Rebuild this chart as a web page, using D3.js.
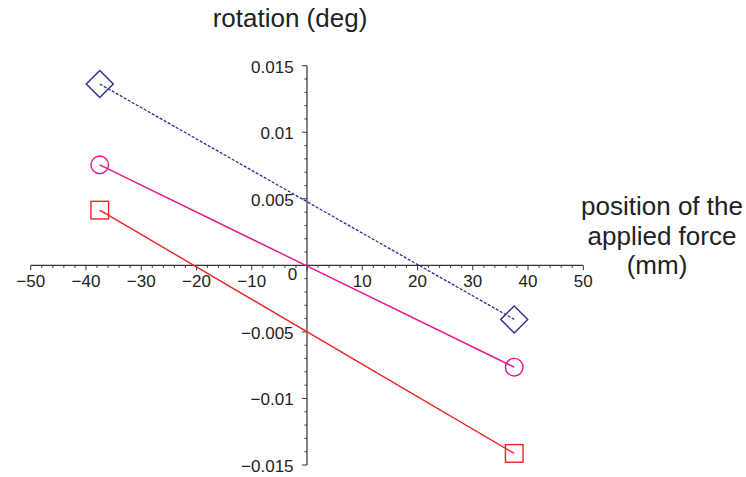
<!DOCTYPE html>
<html><head><meta charset="utf-8">
<script src="https://cdn.jsdelivr.net/npm/d3@7/dist/d3.min.js"></script>
<style>body{margin:0;background:#fff}text{font-family:"Liberation Sans",Arial,sans-serif;fill:#222}</style>
</head><body><svg id="c" width="746" height="477"></svg>
<script>
const xPos = [-37.5, 37.5];
const diamondVals = [0.01362, -0.00406];
const circleVals = [0.00755, -0.00765];
const squareVals = [0.00415, -0.01413];
const xTicks = [-50,-40,-30,-20,-10,10,20,30,40,50];
const yTicks = [0.015,0.01,0.005,-0.005,-0.01,-0.015];
const yTickLabels = ["0.015","0.01","0.005","\u22120.005","\u22120.01","\u22120.015"];

const svg = d3.select("#c");
const x = d3.scaleLinear().domain([-50,50]).range([30.7,583.3]);
const y = d3.scaleLinear().domain([-0.015,0.015]).range([465,65.7]);
const ax = "#333";
const x0 = x(0), y0 = y(0);
svg.append("line").attr("x1",x(-50)).attr("x2",x(50)).attr("y1",y0).attr("y2",y0).attr("stroke",ax).attr("stroke-width",1.2);
svg.append("line").attr("x1",x0).attr("x2",x0).attr("y1",y(0.015)).attr("y2",y(-0.015)).attr("stroke",ax).attr("stroke-width",1.2);
d3.range(-50,51,2).forEach(v=>{
  const major = v%10===0;
  svg.append("line").attr("x1",x(v)).attr("x2",x(v)).attr("y1",y0).attr("y2",y0+(major?5:2.5)).attr("stroke",ax).attr("stroke-width",1);
});
d3.range(-15,16,1).forEach(k=>{
  const major = k%5===0;
  svg.append("line").attr("y1",y(k/1000)).attr("y2",y(k/1000)).attr("x1",x0).attr("x2",x0-(major?5:2.5)).attr("stroke",ax).attr("stroke-width",1);
});
svg.selectAll(".xt").data(xTicks).join("text").attr("x",d=>x(d)).attr("y",y0+21.5)
  .attr("text-anchor","middle").attr("font-size",17).text(d=>d<0?"\u2212"+Math.abs(d):d);
svg.append("text").attr("x",292.5).attr("y",280).attr("text-anchor","middle").attr("font-size",17).text("0");
svg.selectAll(".yt").data(yTicks).join("text").attr("x",x0-13.4).attr("y",(d)=>y(d)+7)
  .attr("text-anchor","end").attr("font-size",17).text((d,i)=>yTickLabels[i]);
svg.append("text").attr("x",290).attr("y",27).attr("text-anchor","middle").attr("font-size",26).text("rotation (deg)");
[["position of the",215,662],["applied force",245,662],["(mm)",274,657]].forEach(([t,yy,xx])=>{
  svg.append("text").attr("x",xx).attr("y",yy).attr("text-anchor","middle").attr("font-size",26).text(t);
});
const line = d3.line().x((d,i)=>x(xPos[i])).y(d=>y(d));
const series = [
  {vals:diamondVals,color:"#2b2f8f",dash:"3,1.6",w:1.3,sym:"diamond"},
  {vals:circleVals,color:"#e6178c",dash:null,w:1.4,sym:"circle"},
  {vals:squareVals,color:"#ee2424",dash:null,w:1.4,sym:"square"}
];
series.forEach(s=>{
  svg.append("path").attr("d",line(s.vals)).attr("fill","none").attr("stroke",s.color)
    .attr("stroke-width",s.w).attr("stroke-dasharray",s.dash);
  s.vals.forEach((v,i)=>{
    const cx=x(xPos[i]), cy=y(v);
    if(s.sym==="diamond") svg.append("path").attr("d",`M${cx},${cy-13.5}L${cx+13.5},${cy}L${cx},${cy+13.5}L${cx-13.5},${cy}Z`)
      .attr("fill","none").attr("stroke",s.color).attr("stroke-width",1.4);
    else if(s.sym==="circle") svg.append("circle").attr("cx",cx).attr("cy",cy).attr("r",8.8).attr("fill","none").attr("stroke",s.color).attr("stroke-width",1.4);
    else svg.append("rect").attr("x",cx-8.8).attr("y",cy-8.8).attr("width",17.6).attr("height",17.6).attr("fill","none").attr("stroke",s.color).attr("stroke-width",1.4);
  });
});
</script></body></html>
